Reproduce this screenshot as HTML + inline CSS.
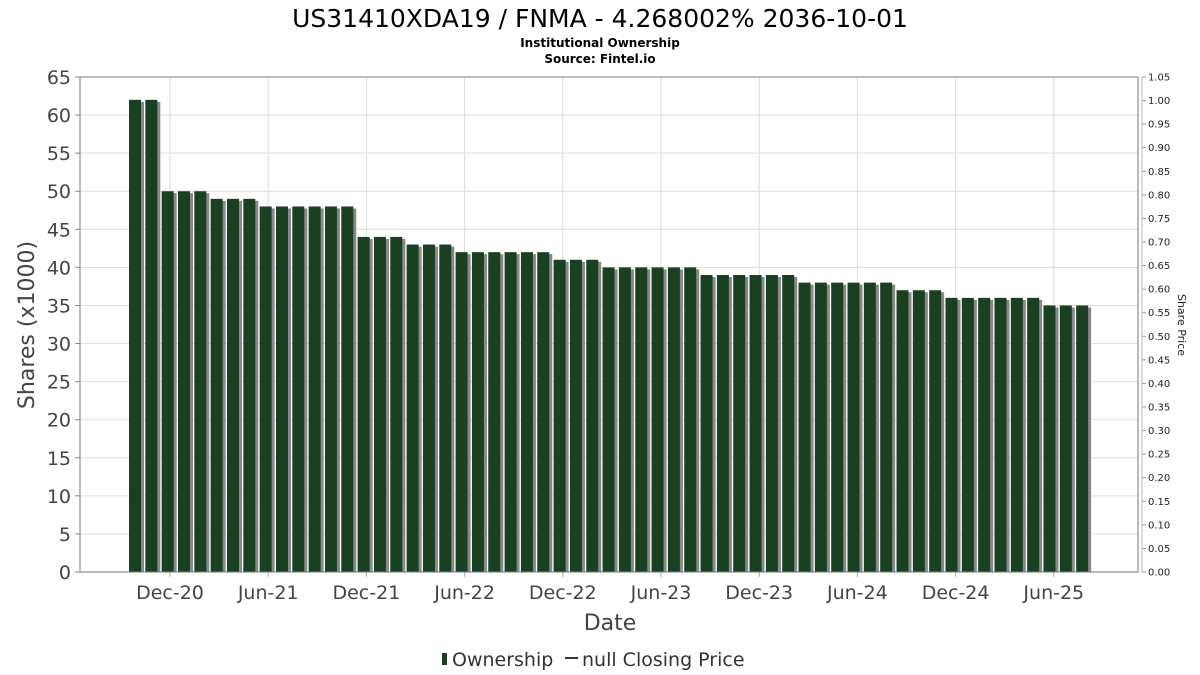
<!DOCTYPE html>
<html><head><meta charset="utf-8"><style>
html,body{margin:0;padding:0;background:#fff;}
svg{display:block;font-family:"DejaVu Sans","Liberation Sans",sans-serif;}
</style></head><body>
<svg id="chart" width="1200" height="675" viewBox="0 0 1200 675">
<text x="600" y="27" text-anchor="middle" font-size="25" fill="#000">US31410XDA19 / FNMA - 4.268002% 2036-10-01</text>
<text x="600" y="47" text-anchor="middle" font-size="12" font-weight="bold" fill="#000">Institutional Ownership</text>
<text x="600" y="63" text-anchor="middle" font-size="12" font-weight="bold" fill="#000">Source: Fintel.io</text>
<g id="grid"></g>
<g id="bars"></g>
<g id="axes"></g>
<text x="610" y="630" text-anchor="middle" font-size="22" fill="#444">Date</text>
<text transform="translate(34,325) rotate(-90)" text-anchor="middle" font-size="22" fill="#444">Shares (x1000)</text>
<text transform="translate(1178,325) rotate(90)" text-anchor="middle" font-size="11" fill="#222">Share Price</text>
<g>
<rect x="442" y="653" width="5" height="12" fill="#1a4023"/>
<text x="452" y="666" font-size="19" fill="#333">Ownership</text>
<line x1="565" y1="658" x2="578" y2="658" stroke="#333" stroke-width="2"/>
<text x="582" y="666" font-size="19" fill="#333">null Closing Price</text>
</g>
</svg>
<script>
const shares = [62,62,50,50,50,49,49,49,48,48,48,48,48,48,44,44,44,43,43,43,42,42,42,42,42,42,41,41,41,40,40,40,40,40,40,39,39,39,39,39,39,38,38,38,38,38,38,37,37,37,36,36,36,36,36,36,35,35,35];
const yTicks = [0,5,10,15,20,25,30,35,40,45,50,55,60,65];
const y2Ticks = ["0.00","0.05","0.10","0.15","0.20","0.25","0.30","0.35","0.40","0.45","0.50","0.55","0.60","0.65","0.70","0.75","0.80","0.85","0.90","0.95","1.00","1.05"];
const xLabels = ["Dec-20","Jun-21","Dec-21","Jun-22","Dec-22","Jun-23","Dec-23","Jun-24","Dec-24","Jun-25"];

const NS="http://www.w3.org/2000/svg";
const L=80,R=1138,T=77,B=572,yMax=65;
const y=v=>B-(v/yMax)*(B-T);
const y2=v=>B-(v/1.05)*(B-T);
const barStep=16.33, barX0=129, barW=12;
const bx=i=>barX0+i*barStep;
const xTickX0=170, xTickStep=98.2;
const xt=i=>xTickX0+i*xTickStep;
function mk(tag,attrs,parent){const e=document.createElementNS(NS,tag);for(const k in attrs)e.setAttribute(k,attrs[k]);parent.appendChild(e);return e;}
const grid=document.getElementById('grid'),bars=document.getElementById('bars'),axes=document.getElementById('axes');
yTicks.forEach(v=>{
  const g=mk('line',{x1:L,x2:R,y1:y(v),y2:y(v),stroke:'#ddd','stroke-width':1},grid);
  
  
  const tk=mk('line',{x1:L-5,x2:L,y1:y(v),y2:y(v),stroke:'#888'},axes);
  
  
  const t=mk('text',{x:L-9,y:y(v)+7,'text-anchor':'end','font-size':19,fill:'#444'},axes);
  t.textContent=v;
  
  
});
xLabels.forEach((s,i)=>{
  const g=mk('line',{x1:xt(i),x2:xt(i),y1:T,y2:B,stroke:'#ddd'},grid);
  
  
  const tk=mk('line',{x1:xt(i),x2:xt(i),y1:B,y2:B+5,stroke:'#aaa'},axes);
  
  
  const t=mk('text',{x:xt(i),y:B+27,'text-anchor':'middle','font-size':19,fill:'#444'},axes);
  t.textContent=s;
  
  
});
y2Ticks.forEach(s=>{
  const v=parseFloat(s);
  const tk=mk('line',{x1:1142,x2:1146,y1:y2(v),y2:y2(v),stroke:'#999'},axes);
  
  
  const t=mk('text',{x:1148,y:y2(v)+3.5,'font-size':10,fill:'#222'},axes);
  t.textContent=s;
  
  
});
shares.forEach((v,i)=>{
  const sh=mk('rect',{x:bx(i)+3,y:y(v)+2,width:barW,height:B-y(v)-2,fill:'#888'},bars);
  
  
  const r=mk('rect',{x:bx(i),y:y(v),width:barW,height:B-y(v),fill:'#1a4023'},bars);
  
  
});
const fr=mk('rect',{x:L,y:T,width:R-L,height:B-T,fill:'none',stroke:'#777','stroke-width':1},axes);


const ax2=mk('line',{x1:1142,x2:1142,y1:T,y2:B,stroke:'#bbb'},axes);


</script>
</body></html>
